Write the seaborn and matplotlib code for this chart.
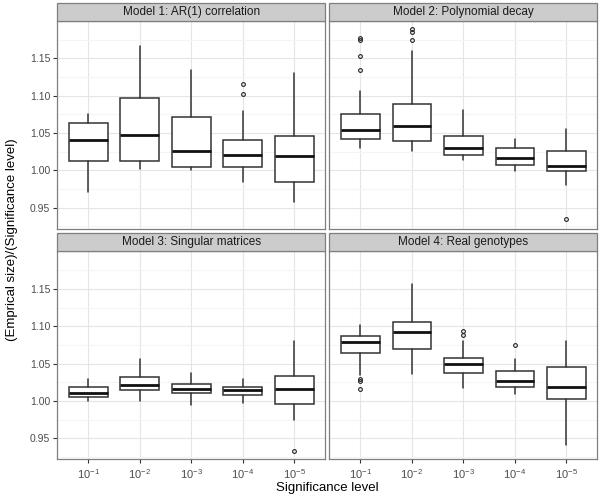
import numpy as np
import pandas as pd
import matplotlib
matplotlib.use("Agg")
import matplotlib.pyplot as plt
from matplotlib.patches import Rectangle
import seaborn as sns

# ---------------- data ----------------
models = ["Model 1: AR(1) correlation", "Model 2: Polynomial decay",
          "Model 3: Singular matrices", "Model 4: Real genotypes"]
levels = ["$10^{-1}$", "$10^{-2}$", "$10^{-3}$", "$10^{-4}$", "$10^{-5}$"]

# five boxes per model, model-major order
whisker_low = [0.971, 1.002, 1.001, 0.985, 0.958,
               1.0305, 1.026, 1.0135, 0.999, 0.981,
               1.0006, 1.0002, 0.9948, 0.9979, 0.9747,
               1.0351, 1.0359, 1.0171, 1.0091, 0.9411]
quart1 = [1.0125, 1.013, 1.005, 1.004, 0.984,
          1.042, 1.039, 1.0205, 1.0067, 0.9996,
          1.005, 1.0144, 1.0104, 1.0077, 0.9961,
          1.0646, 1.070, 1.0373, 1.019, 1.0029]
median = [1.041, 1.047, 1.026, 1.020, 1.019,
          1.0546, 1.060, 1.0305, 1.016, 1.0054,
          1.0113, 1.0217, 1.0158, 1.0144, 1.0158,
          1.0793, 1.0923, 1.0498, 1.027, 1.0185]
quart3 = [1.0635, 1.097, 1.0715, 1.041, 1.0465,
          1.076, 1.089, 1.0466, 1.0295, 1.0264,
          1.019, 1.0319, 1.0234, 1.019, 1.0332,
          1.0869, 1.1057, 1.0574, 1.0405, 1.0458]
whisker_high = [1.076, 1.167, 1.135, 1.079, 1.1305,
                1.1064, 1.1597, 1.081, 1.0425, 1.0554,
                1.0297, 1.0566, 1.0378, 1.0297, 1.0798,
                1.1013, 1.1567, 1.0798, 1.0566, 1.0807]
outliers = [[], [], [], [1.1154, 1.1024], [],
            [1.1776, 1.174, 1.153, 1.135], [1.1888, 1.1857, 1.1745], [], [], [0.935],
            [], [], [], [], [0.9335],
            [1.0292, 1.027, 1.0158], [], [1.0941, 1.0888], [1.0753], []]

y_ticks = [0.95, 1.00, 1.05, 1.10, 1.15]
y_minor = [0.925, 0.975, 1.025, 1.075, 1.125, 1.175]

df = pd.DataFrame({
    "model": np.repeat(models, len(levels)),
    "level": levels * len(models),
    "pos": list(range(len(levels))) * len(models),
    "whislo": whisker_low, "q1": quart1, "med": median,
    "q3": quart3, "whishi": whisker_high,
    "fliers": outliers,
})

# ---------------- style ----------------
sns.set_theme(style="white")
plt.rcParams["font.family"] = ["Liberation Sans", "DejaVu Sans"]
plt.rcParams["mathtext.fontset"] = "custom"
plt.rcParams["mathtext.rm"] = "Liberation Sans"
plt.rcParams["mathtext.it"] = "Liberation Sans:italic"
plt.rcParams["mathtext.default"] = "regular"

box_col = "#333333"


def draw_boxes(data, **kws):
    ax = plt.gca()
    stats = [dict(whislo=r.whislo, q1=r.q1, med=r.med, q3=r.q3,
                  whishi=r.whishi, fliers=np.array(r.fliers))
             for r in data.itertuples()]
    ax.bxp(stats, positions=list(data["pos"]), widths=0.75,
           showcaps=False, patch_artist=True, manage_ticks=False,
           boxprops=dict(facecolor="white", edgecolor=box_col, linewidth=1.1),
           whiskerprops=dict(color=box_col, linewidth=1.1),
           medianprops=dict(color="#111111", linewidth=2.0),
           flierprops=dict(marker="o", markersize=2.7, markerfacecolor="none",
                           markeredgecolor="#222222", markeredgewidth=0.8,
                           linestyle="none"),
           zorder=3)


g = sns.FacetGrid(df, col="model", col_wrap=2, col_order=models,
                  sharex=True, sharey=True, height=2.5, aspect=1.2,
                  despine=False)
g.map_dataframe(draw_boxes)
g.set_titles("")
g.set_axis_labels("", "")

fig = g.figure
fig.set_size_inches(6.0, 4.98)
fig.subplots_adjust(left=57.3 / 600, right=597.3 / 600,
                    top=1 - 20.7 / 498, bottom=1 - 459.3 / 498,
                    wspace=0.016, hspace=0.109)

for i, (ax, title) in enumerate(zip(g.axes.flat, models)):
    ax.set_xlim(-0.6, 4.6)
    ax.set_ylim(0.922, 1.2005)
    ax.set_xticks(range(len(levels)))
    ax.set_xticklabels(levels)
    ax.set_yticks(y_ticks)
    ax.set_yticklabels([f"{v:.2f}" for v in y_ticks])
    ax.set_yticks(y_minor, minor=True)
    ax.set_axisbelow(True)
    ax.grid(True, which="major", color="#e5e5e5", linewidth=0.8)
    ax.grid(True, which="minor", axis="y", color="#f5f5f5", linewidth=0.8)
    for sp in ax.spines.values():
        sp.set_color("#7f7f7f")
        sp.set_linewidth(0.9)
    ax.tick_params(which="major", direction="out", length=3, width=0.8,
                   color="#333333", labelcolor="#4d4d4d", labelsize=7.5,
                   pad=2, bottom=(i >= 2), left=(i % 2 == 0),
                   labelbottom=(i >= 2), labelleft=(i % 2 == 0))
    ax.tick_params(axis="x", labelsize=8, pad=3)
    ax.tick_params(which="minor", length=0)
    h = 18 / 207.6
    ax.add_patch(Rectangle((0, 1), 1, h, transform=ax.transAxes,
                           clip_on=False, facecolor="#cccccc",
                           edgecolor="#7f7f7f", linewidth=0.9, zorder=5))
    ax.text(0.5, 1 + h / 2, title, transform=ax.transAxes, ha="center",
            va="center", fontsize=8.5, color="#1a1a1a", zorder=6)

fig.text(327.3 / 600, 1 - 488 / 498, "Significance level", ha="center",
         va="center", fontsize=9.5, color="black")
fig.text(12 / 600, 1 - 240 / 498, "(Emprical size)/(Significance level)",
         ha="center", va="center", rotation=90, fontsize=9.5, color="black")

fig.savefig("out.png", dpi=100)
